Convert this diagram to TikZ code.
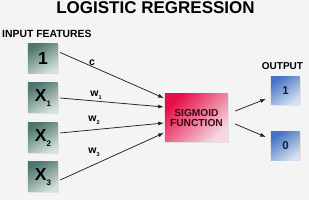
\documentclass[tikz,border=0pt]{standalone}
\usepackage{fontspec}
\setmainfont{Liberation Sans}
\usetikzlibrary{shadows,calc,arrows.meta}
\definecolor{bg}{HTML}{F4F4F4}
\definecolor{inA}{HTML}{4E766D}
\definecolor{inB}{HTML}{D3E0DB}
\definecolor{sgA}{HTML}{E60F48}
\definecolor{sgB}{HTML}{F6D8E1}
\definecolor{outA}{HTML}{4673C4}
\definecolor{outB}{HTML}{D6E0F0}
\definecolor{sgtext}{HTML}{3A0A18}
\definecolor{outtext}{HTML}{14203A}
\definecolor{linec}{HTML}{222222}
\tikzset{
  inbox/.style={minimum width=30pt,minimum height=30pt,inner sep=0pt,
    shading=axis,top color=inA,bottom color=inB,shading angle=30,
    drop shadow={opacity=0.15,shadow xshift=1pt,shadow yshift=-1pt},
    font=\bfseries\fontsize{17.5}{17}\selectfont},
  sigbox/.style={minimum width=63pt,minimum height=48pt,inner sep=0pt,
    shading=axis,top color=sgA,bottom color=sgB,shading angle=45,
    drop shadow={opacity=0.15,shadow xshift=1pt,shadow yshift=-1pt},
    align=center,text=sgtext,font=\bfseries\fontsize{10.2}{9.5}\selectfont},
  outbox/.style={minimum width=29pt,minimum height=28.5pt,inner sep=0pt,
    shading=axis,top color=outA,bottom color=outB,shading angle=35,
    drop shadow={opacity=0.15,shadow xshift=1pt,shadow yshift=-1pt},
    text=outtext,font=\bfseries\fontsize{11.5}{11}\selectfont},
  arr/.style={draw=linec,line width=0.75pt,-{Latex[length=5.5pt,width=4pt]}},
  wlabel/.style={inner sep=0pt,font=\bfseries\fontsize{10.5}{10}\selectfont},
  heading/.style={inner sep=0pt,font=\bfseries\fontsize{10.4}{10}\selectfont}
}
\newcommand{\xsub}[1]{X\raisebox{-0.5ex}{\fontsize{8}{7}\selectfont #1}}
\newcommand{\wsub}[1]{w\raisebox{-0.5ex}{\fontsize{5.5}{5}\selectfont #1}}
\begin{document}
\begin{tikzpicture}[x=1pt,y=-1pt]
\fill[bg] (0,0) rectangle (309,200);
\useasboundingbox (0,0) rectangle (309,200);

\node[inner sep=0pt,font=\bfseries\fontsize{17}{17}\selectfont] (title) at (155.5,8) {LOGISTIC REGRESSION};
\node[heading,anchor=west] (inlab) at (2,34) {INPUT FEATURES};
\node[heading,font=\bfseries\fontsize{10}{10}\selectfont] (outlab) at (282.5,66.5) {OUTPUT};

\node[inbox] (in0) at (43,58.5) {1};
\node[inbox] (in1) at (43,98) {\xsub{1}};
\node[inbox] (in2) at (43,138) {\xsub{2}};
\node[inbox] (in3) at (43,177) {\xsub{3}};

\node[sigbox] (sig) at (196.5,118) {SIGMOID\\FUNCTION};

\node[outbox] (o1) at (285.5,90.5) {1};
\node[outbox] (o0) at (285.5,146) {0};

\draw[arr] ([shift={(2,-6)}]in0.east) -- ([shift={(-1,-20)}]sig.west);
\draw[arr] ([shift={(2,0)}]in1.east) -- ([shift={(-1,-11)}]sig.west);
\draw[arr] ([shift={(2,-5)}]in2.east) -- ([shift={(-1,5)}]sig.west);
\draw[arr] ([shift={(2,3)}]in3.east) -- ([shift={(-1,15)}]sig.west);

\draw[arr] ([shift={(7,-7)}]sig.east) -- ([shift={(-5,8.5)}]o1.west);
\draw[arr] ([shift={(7,6)}]sig.east) -- ([shift={(-5,-9)}]o0.west);

\node[wlabel] (lc) at (92,63) {c};
\node[wlabel] (lw1) at (96,95) {\wsub{1}};
\node[wlabel] (lw2) at (94,120) {\wsub{2}};
\node[wlabel] (lw3) at (94,152) {\wsub{3}};
\end{tikzpicture}
\end{document}
